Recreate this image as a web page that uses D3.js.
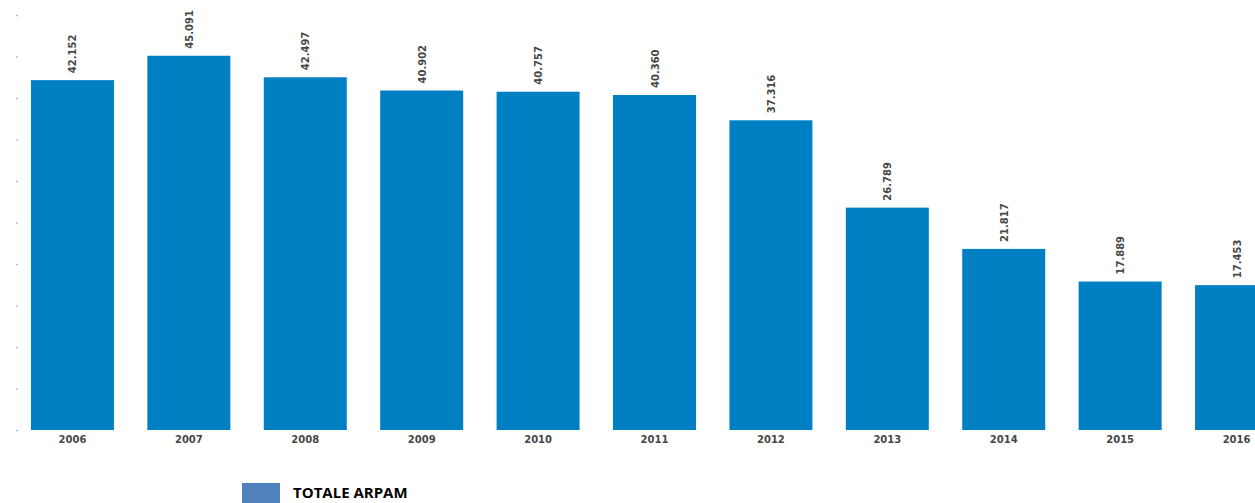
<!DOCTYPE html>
<html><head><meta charset="utf-8">
<script src="https://cdn.jsdelivr.net/npm/d3@7"></script>
<style>body{margin:0;background:#fff;}svg{display:block;}</style>
</head><body>
<svg id="c" width="1255" height="503"></svg>
<script>
const categories = ["2006","2007","2008","2009","2010","2011","2012","2013","2014","2015","2016"];
const values = [42152,45091,42497,40902,40757,40360,37316,26789,21817,17889,17453];
const seriesName = "TOTALE ARPAM";
const yTicks = [0,5000,10000,15000,20000,25000,30000,35000,40000,45000,50000];

const svg = d3.select("#c");
const x = d3.scaleBand().domain(categories).range([14.3, 1294.7]).paddingInner(0.287).paddingOuter(0.143);
const y = d3.scaleLinear().domain([0,50000]).range([430,15]);
const fmt = d3.formatLocale({decimal:",", thousands:".", grouping:[3], currency:["€",""]}).format(",d");

// left axis dots
const ax = svg.append("g").attr("transform","translate(18,0)")
  .call(d3.axisLeft(y).tickValues(yTicks).tickSize(2).tickFormat(""));
ax.select(".domain").remove();
ax.selectAll(".tick line").attr("stroke","#bfbfbf").attr("stroke-width",1.5);

svg.append("g").selectAll("rect").data(values).join("rect")
  .attr("x",(d,i)=>x(categories[i]))
  .attr("width",x.bandwidth())
  .attr("y",d=>y(d))
  .attr("height",d=>y(0)-y(d))
  .attr("fill","#0080c2");

svg.append("g").selectAll("text").data(values).join("text")
  .attr("transform",(d,i)=>`translate(${x(categories[i])+x.bandwidth()/2+4},${y(d)-7}) rotate(-90)`)
  .attr("text-anchor","start")
  .attr("font-family","DejaVu Sans, sans-serif")
  .attr("font-weight","bold")
  .attr("font-size","10px")
  .attr("fill","#474747")
  .text(d=>fmt(d));

const xa = svg.append("g").attr("transform","translate(0,430)")
  .call(d3.axisBottom(x).tickSize(0).tickPadding(6));
xa.select(".domain").remove();
xa.selectAll("text").attr("font-family","DejaVu Sans, sans-serif").attr("font-weight","bold")
  .attr("font-size","10px").attr("fill","#474747");

const lg = svg.append("g");
lg.append("rect").attr("x",242).attr("y",483).attr("width",38).attr("height",22).attr("fill","#4f81bd");
lg.append("text").attr("x",293).attr("y",498).attr("font-family","Open Sans, sans-serif")
  .attr("font-weight","bold").attr("font-size","15px").attr("fill","#000").text(seriesName);
</script>
</body></html>
